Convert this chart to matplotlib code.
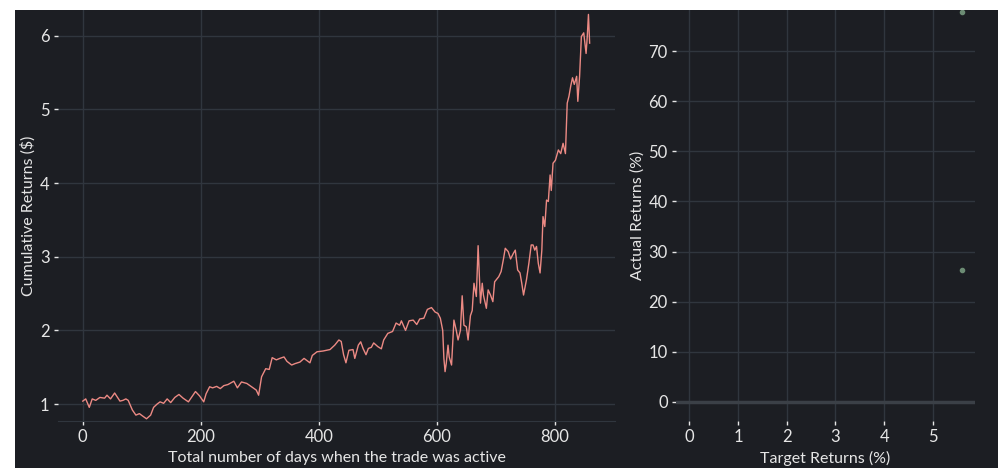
import matplotlib
matplotlib.use("Agg")
import matplotlib.pyplot as plt
from matplotlib.patches import Rectangle

# Cumulative returns (day, value)
days = [0, 5, 11, 16, 22, 29, 37, 41, 47, 54, 63, 68, 73, 77, 84, 90, 96, 101, 108, 115,
        120, 126, 131, 137, 143, 149, 156, 163, 170, 179, 185, 191, 198, 205, 209, 215, 220,
        227, 233, 239, 246, 256, 262, 269, 278, 286, 294, 298, 303, 310, 316, 321, 328, 334,
        341, 346, 354, 360, 368, 375, 385, 389, 397, 407, 419, 427, 434, 438, 442, 446, 451,
        458, 461, 467, 471, 475, 480, 484, 489, 493, 500, 506, 510, 517, 525, 531, 537, 540,
        547, 553, 560, 566, 571, 578, 584, 591, 597, 602, 606, 610, 612, 614, 616, 619, 621,
        625, 629, 633, 636, 640, 643, 646, 650, 653, 657, 660, 663, 667, 670, 674, 677, 679,
        684, 687, 691, 695, 698, 705, 709, 713, 716, 721, 725, 730, 733, 737, 741, 744, 747,
        752, 756, 760, 763, 766, 769, 772, 775, 778, 780, 783, 786, 789, 792, 794, 797, 801,
        806, 810, 814, 818, 821, 824, 827, 830, 833, 837, 839, 842, 845, 849, 853, 855, 857,
        859]
cum_returns = [1.04, 1.07, 0.955, 1.07, 1.05, 1.09, 1.08, 1.12, 1.07, 1.15, 1.04, 1.05, 1.07,
               1.05, 0.92, 0.85, 0.87, 0.84, 0.80, 0.85, 0.955, 1.00, 1.03, 1.01, 1.07, 1.02,
               1.09, 1.13, 1.08, 1.03, 1.10, 1.17, 1.11, 1.03, 1.14, 1.235, 1.22, 1.24, 1.21,
               1.25, 1.265, 1.31, 1.22, 1.30, 1.28, 1.235, 1.19, 1.12, 1.37, 1.48, 1.47, 1.63,
               1.60, 1.62, 1.64, 1.58, 1.53, 1.55, 1.57, 1.62, 1.56, 1.66, 1.71, 1.72, 1.74,
               1.80, 1.87, 1.85, 1.67, 1.56, 1.73, 1.74, 1.62, 1.80, 1.845, 1.755, 1.67, 1.755,
               1.77, 1.83, 1.78, 1.75, 1.87, 1.96, 1.985, 2.10, 2.07, 2.13, 2.00, 2.13, 2.14,
               2.08, 2.155, 2.165, 2.285, 2.31, 2.25, 2.23, 2.165, 2.00, 1.62, 1.44, 1.55, 1.80,
               1.64, 1.53, 2.14, 2.00, 1.87, 2.00, 2.47, 2.07, 2.05, 1.87, 2.20, 2.27, 2.64,
               2.46, 3.15, 2.37, 2.64, 2.48, 2.30, 2.55, 2.48, 2.39, 2.66, 2.73, 2.80, 2.97,
               3.115, 3.07, 2.97, 3.05, 3.09, 2.82, 2.78, 2.64, 2.48, 2.69, 2.91, 3.16, 3.16,
               3.09, 3.14, 2.91, 2.78, 3.09, 3.545, 3.41, 3.77, 3.75, 4.11, 3.90, 4.27, 4.31,
               4.45, 4.40, 4.54, 4.40, 5.085, 5.18, 5.32, 5.43, 5.34, 5.45, 5.11, 5.45, 5.99,
               6.04, 5.76, 5.99, 6.29, 5.90]

# Target vs actual returns (%)
target_returns = [5.59, 5.59]
actual_returns = [77.8, 26.4]

bg = '#1c1e23'
grid_c = '#30363e'
text_c = '#e6e6e6'

plt.rcParams['font.family'] = ['Lato', 'DejaVu Sans']

fig = plt.figure(figsize=(9.98, 4.68), dpi=100)
fig.patch.set_facecolor('white')
fig.patches.append(Rectangle((15 / 998, 0), 1, 458 / 468, transform=fig.transFigure,
                             facecolor=bg, edgecolor='none', zorder=-10))

ax1 = fig.add_axes([58 / 998, 47 / 468, 557 / 998, 411 / 468])
ax2 = fig.add_axes([676 / 998, 47 / 468, 299 / 998, 411 / 468])

for ax in (ax1, ax2):
    ax.set_facecolor(bg)
    ax.grid(True, color=grid_c, linewidth=1)
    ax.set_axisbelow(True)
    for s in ax.spines.values():
        s.set_visible(False)
    ax.tick_params(colors=text_c, labelsize=12, length=3, width=1, pad=3)

# left: cumulative returns
ax1.plot(days, cum_returns, color='#ec8a84', linewidth=1)
ax1.set_xlim(-42, 902)
ax1.set_ylim(0.77, 6.35)
ax1.set_xticks([0, 200, 400, 600, 800])
ax1.set_yticks([1, 2, 3, 4, 5, 6])
ax1.spines['bottom'].set_visible(True)
ax1.spines['bottom'].set_color(grid_c)
ax1.set_xlabel("Total number of days when the trade was active", color=text_c, fontsize=11.5, labelpad=4)
ax1.set_ylabel("Cumulative Returns ($)", color=text_c, fontsize=11.5, labelpad=3)

# right: target vs actual
ax2.axhline(0, color='#3b4047', linewidth=2.5, zorder=1)
ax2.scatter(target_returns, actual_returns, s=9, color='#6c8c74', zorder=3)
ax2.set_xlim(-0.27, 5.86)
ax2.set_ylim(-3.8, 78.2)
ax2.set_xticks([0, 1, 2, 3, 4, 5])
ax2.set_yticks([0, 10, 20, 30, 40, 50, 60, 70])
ax2.set_xlabel("Target Returns (%)", color=text_c, fontsize=11.5, labelpad=4)
ax2.set_ylabel("Actual Returns (%)", color=text_c, fontsize=11.5, labelpad=3)

fig.savefig("out.png", dpi=100, facecolor=fig.get_facecolor())
